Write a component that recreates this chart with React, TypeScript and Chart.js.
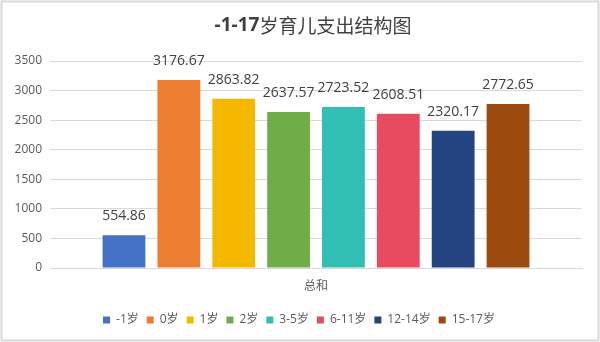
import React, { useEffect, useRef } from "react";
import { Chart, registerables } from "chart.js";

Chart.register(...registerables);

const categories = ["总和"];
const seriesNames = ["-1岁", "0岁", "1岁", "2岁", "3-5岁", "6-11岁", "12-14岁", "15-17岁"];
const seriesValues = [554.86, 3176.67, 2863.82, 2637.57, 2723.52, 2608.51, 2320.17, 2772.65];
const seriesColors = ["#4472C4", "#ED7D31", "#F5B800", "#70AD47", "#30BFB2", "#E84B5F", "#244381", "#9C4A0E"];
const yTicks = [0, 500, 1000, 1500, 2000, 2500, 3000, 3500];
const titleBold = "-1-17";
const titleRest = "岁育儿支出结构图";

const FONT = "'Open Sans', 'Noto Sans CJK SC', sans-serif";

export default function App() {
  const ref = useRef<HTMLCanvasElement | null>(null);

  useEffect(() => {
    document.body.style.margin = "0";
    const canvas = ref.current;
    if (!canvas) return;

    const framePlugin = {
      id: "frame",
      afterLayout(chart: any) {
        if (chart.legend) {
          chart.legend.left += 8;
          chart.legend.right += 8;
        }
      },
      beforeDraw(chart: any) {
        const ctx = chart.ctx;
        ctx.save();
        ctx.fillStyle = "#ffffff";
        ctx.fillRect(0, 0, chart.width, chart.height);
        ctx.strokeStyle = "#d9d9d9";
        ctx.lineWidth = 2;
        ctx.strokeRect(1.5, 1.5, chart.width - 3, chart.height - 3);
        ctx.restore();
      },
      afterDraw(chart: any) {
        const ctx = chart.ctx;
        ctx.save();
        ctx.fillStyle = "#404040";
        ctx.textBaseline = "middle";
        const boldFont = `bold 19px ${FONT}`;
        const normFont = `19px 'Noto Sans CJK SC', sans-serif`;
        ctx.font = boldFont;
        const w1 = ctx.measureText(titleBold).width;
        ctx.font = normFont;
        const w2 = ctx.measureText(titleRest).width;
        const x0 = chart.width / 2 - (w1 + w2) / 2 + 13;
        const y = 26;
        ctx.textAlign = "left";
        ctx.font = boldFont;
        ctx.fillText(titleBold, x0, y);
        ctx.font = normFont;
        ctx.fillText(titleRest, x0 + w1, y);

        // data labels
        ctx.font = `14px ${FONT}`;
        ctx.fillStyle = "#404040";
        ctx.textAlign = "center";
        chart.data.datasets.forEach((ds: any, i: number) => {
          const meta = chart.getDatasetMeta(i);
          meta.data.forEach((bar: any, j: number) => {
            const v = ds.data[j];
            ctx.fillText(v.toFixed(2), bar.x, bar.y - 19);
          });
        });
        ctx.restore();
      },
    };

    const chart = new Chart(canvas, {
      type: "bar",
      data: {
        labels: categories,
        datasets: seriesNames.map((name, i) => ({
          label: name,
          data: [seriesValues[i]],
          backgroundColor: seriesColors[i],
          borderWidth: 0,
          barPercentage: 0.78,
          categoryPercentage: 0.825,
        })),
      },
      options: {
        animation: false,
        responsive: false,
        layout: { padding: { top: 61, left: 0, right: 18, bottom: 6 } },
        plugins: {
          title: { display: false },
          tooltip: { enabled: false },
          legend: {
            position: "bottom",
            labels: {
              boxWidth: 7,
              boxHeight: 7,
              padding: 8,
              color: "#595959",
              font: { family: FONT, size: 12 },
            },
          },
        },
        scales: {
          x: {
            afterFit(scale: any) {
              scale.height = 38;
            },
            grid: { display: false, drawTicks: false },
            border: { display: true, color: "#d9d9d9" },
            ticks: {
              color: "#595959",
              padding: 10,
              font: { family: "'Noto Sans CJK SC', sans-serif", size: 12 },
            },
          },
          y: {
            min: 0,
            max: 3500,
            afterFit(scale: any) {
              scale.width = 50;
            },
            afterBuildTicks(scale: any) {
              scale.ticks = yTicks.map((v) => ({ value: v }));
            },
            grid: { color: "#d9d9d9", drawTicks: false },
            border: { display: false },
            ticks: {
              color: "#595959",
              padding: 8,
              font: { family: FONT, size: 12 },
              callback: (v: any) => String(v),
            },
          },
        },
      },
      plugins: [framePlugin],
    });

    return () => chart.destroy();
  }, []);

  return (
    <div style={{ position: "relative", width: 600, height: 342 }}>
      <canvas ref={ref} width={600} height={342} style={{ display: "block", width: 600, height: 342 }} />
    </div>
  );
}
